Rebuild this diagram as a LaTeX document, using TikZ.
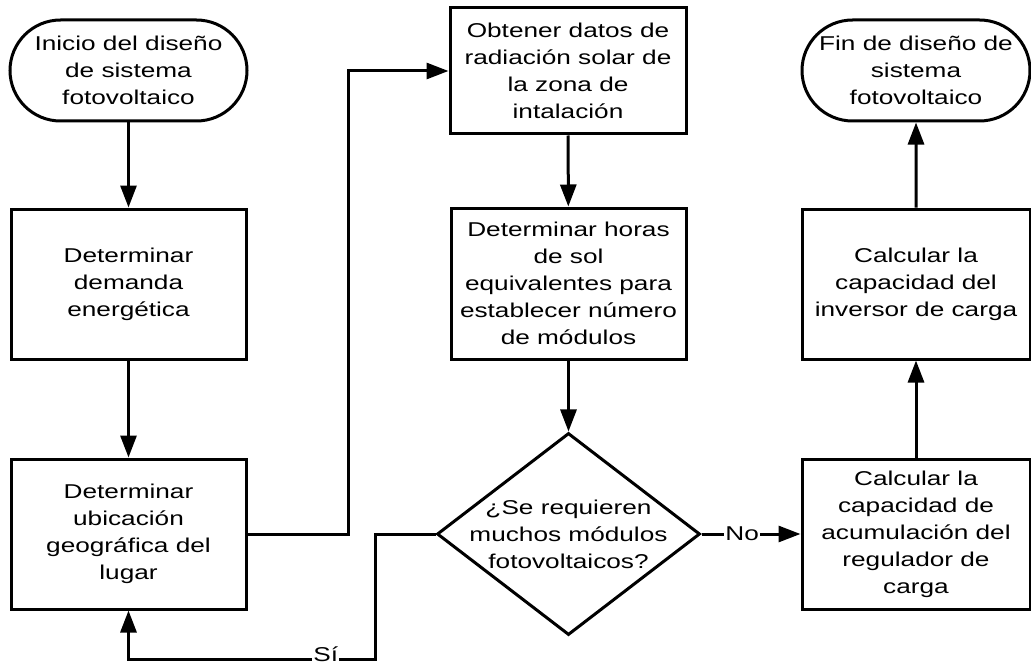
\documentclass[tikz,border=0pt]{standalone}
\usepackage{fontspec}
\setmainfont{Liberation Sans}[FakeStretch=1.31]
\usetikzlibrary{arrows.meta, shapes.geometric, shapes.misc}
\tikzset{>={Triangle[length=22pt, width=16pt]}}
\tikzset{
  texto/.style={align=center, font=\fontsize{20}{27}\selectfont},
  paso/.style={texto, rectangle, draw=black, line width=3pt, inner sep=0pt},
  terminal/.style={texto, rounded rectangle, draw=black, line width=3pt, inner sep=0pt},
  pregunta/.style={texto, diamond, draw=black, line width=3pt, inner sep=-10pt, aspect=1.3},
  flecha/.style={line width=3pt, ->},
  etiqueta/.style={texto, fill=white, inner sep=1pt}
}

\begin{document}
\begin{tikzpicture}[x=1pt, y=-1pt]
\useasboundingbox (0,0) rectangle (1031,666);

\node[terminal, minimum width=237pt, minimum height=101pt] (inicio) at (128.5,70.5) {Inicio del diseño\\de sistema\\fotovoltaico};
\node[paso, minimum width=235pt, minimum height=150pt] (demanda) at (128.5,284) {Determinar\\demanda\\energética};
\node[paso, minimum width=235pt, minimum height=150pt] (ubicacion) at (128.5,534) {Determinar\\ubicación\\geográfica del\\lugar};

\node[paso, minimum width=236pt, minimum height=126pt] (datos) at (568,71) {Obtener datos de\\radiación solar de\\la zona de\\intalación};
\node[paso, minimum width=235pt, minimum height=151pt] (horas) at (568.5,283.5) {Determinar horas\\de sol\\equivalentes para\\establecer número\\de módulos};
\node[pregunta, minimum width=263pt, minimum height=202pt] (modulos) at (568.5,534) {¿Se requieren\\muchos módulos\\fotovoltaicos?};

\node[terminal, minimum width=228pt, minimum height=101pt] (fin) at (916,70.5) {Fin de diseño de\\sistema\\fotovoltaico};
\node[paso, minimum width=228pt, minimum height=150pt] (inversor) at (916,284) {Calcular la\\capacidad del\\inversor de carga};
\node[paso, minimum width=228pt, minimum height=150pt] (regulador) at (916,534) {Calcular la\\capacidad de\\acumulación del\\regulador de\\carga};

\coordinate (codoA) at (348,534);
\coordinate (codoB) at (375,534);
\coordinate (codoC) at (375,659);

\draw[flecha] (inicio) -- (demanda);
\draw[flecha] (demanda) -- (ubicacion);
\draw[flecha] (ubicacion.east) -- (codoA) |- (datos.west);
\draw[flecha] (datos) -- (horas);
\draw[flecha] (horas) -- (modulos);
\draw[flecha] (modulos.west) -- (codoB) -- (codoC) -| node[etiqueta, pos=0.1, yshift=5pt] {Sí} (ubicacion.south);
\draw[flecha] (modulos.east) -- node[etiqueta, pos=0.41] {No} (regulador.west);
\draw[flecha] (regulador) -- (inversor);
\draw[flecha] (inversor) -- (fin);
\end{tikzpicture}
\end{document}
